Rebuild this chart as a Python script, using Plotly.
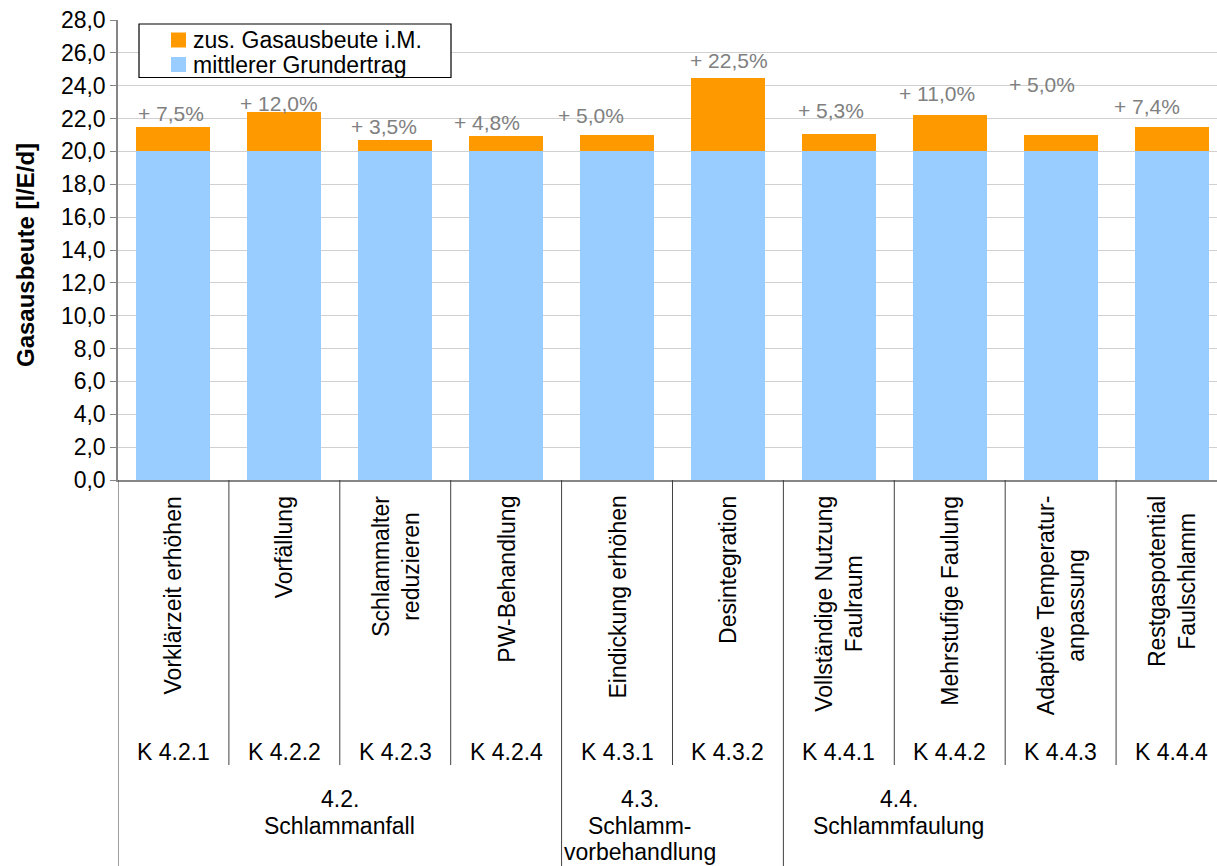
import plotly.graph_objects as go

categories = ["Vorklärzeit erhöhen", "Vorfällung", "Schlammalter<br>reduzieren", "PW-Behandlung",
              "Eindickung erhöhen", "Desintegration", "Vollständige Nutzung<br>Faulraum",
              "Mehrstufige Faulung", "Adaptive Temperatur-<br>anpassung", "Restgaspotential<br>Faulschlamm"]
codes = ["K 4.2.1", "K 4.2.2", "K 4.2.3", "K 4.2.4", "K 4.3.1", "K 4.3.2",
         "K 4.4.1", "K 4.4.2", "K 4.4.3", "K 4.4.4"]
groups = ["4.2.<br>Schlammanfall", "4.3.<br>Schlamm-<br>vorbehandlung", "4.4.<br>Schlammfaulung"]
group_sizes = [4, 2, 4]
base_yield = [20.0, 20.0, 20.0, 20.0, 20.0, 20.0, 20.0, 20.0, 20.0, 20.0]
extra_pct = [7.5, 12.0, 3.5, 4.8, 5.0, 22.5, 5.3, 11.0, 5.0, 7.4]
series_names = ["mittlerer Grundertrag", "zus. Gasausbeute i.M."]
series_colors = ["#99CCFF", "#FF9900"]

# manual label placement offsets (px), as in the original
label_dx = [-2, -5, -11, -19, -26, 1, -8, -13, -19, -25]
label_dy = [0, -5, 0, 0, 6, 4, 10, 8, 37, 7]

extra_yield = [b * p / 100 for b, p in zip(base_yield, extra_pct)]
totals = [b + e for b, e in zip(base_yield, extra_yield)]
pct_text = [("+ %.1f%%" % p).replace(".", ",") for p in extra_pct]

FONT = "Arial, Liberation Sans, sans-serif"
x = list(range(len(categories)))

fig = go.Figure()
fig.add_trace(go.Bar(x=x, y=base_yield, name=series_names[0], showlegend=False,
                     marker=dict(color=series_colors[0], line=dict(width=0))))
fig.add_trace(go.Bar(x=x, y=extra_yield, name=series_names[1], showlegend=False,
                     marker=dict(color=series_colors[1], line=dict(width=0))))

L, W_PLOT, H_PLOT = 118.0, 1099.0, 460.0
def py(px):
    return (480.0 - px) / H_PLOT
def pxp(px):
    return (px - L) / W_PLOT

ann = []
# percentage labels
for i, (t, tot) in enumerate(zip(pct_text, totals)):
    ann.append(dict(x=i, y=tot, xref="x", yref="y", text=t, showarrow=False,
                    xanchor="center", yanchor="bottom", xshift=label_dx[i], yshift=label_dy[i],
                    font=dict(size=21, color="#808080", family=FONT)))
# rotated category labels
for i, c in enumerate(categories):
    ann.append(dict(x=i, y=py(494), xref="x", yref="paper", text=c, textangle=-90,
                    xanchor="center", yanchor="top", showarrow=False, align="center",
                    font=dict(size=23, color="#000000", family=FONT)))
for i, k in enumerate(codes):
    ann.append(dict(x=i, y=py(752), xref="x", yref="paper", text=k,
                    xanchor="center", yanchor="middle", showarrow=False,
                    font=dict(size=23, color="#000000", family=FONT)))
group_centers = [1.5, 4.21, 6.54]
for g, gc in zip(groups, group_centers):
    for j, line in enumerate(g.split("<br>")):
        ann.append(dict(x=gc, y=py(799 + 26.5 * j), xref="x", yref="paper", text=line,
                        xanchor="center", yanchor="middle", showarrow=False,
                        font=dict(size=23, color="#000000", family=FONT)))
# y-axis title
ann.append(dict(x=pxp(25), y=py(255), xref="paper", yref="paper",
                text="<b>Gasausbeute [l/E/d]</b>", textangle=-90, showarrow=False,
                xanchor="center", yanchor="middle",
                font=dict(size=24, color="#000000", family=FONT)))

shapes = []
# legend box
shapes.append(dict(type="rect", xref="paper", yref="paper", x0=pxp(139), x1=pxp(451),
                   y0=py(24), y1=py(77.5), fillcolor="white",
                   line=dict(color="#000000", width=1.2), layer="above"))
legend_rows = [(series_names[1], series_colors[1], 40), (series_names[0], series_colors[0], 64.5)]
for name, col, cy in legend_rows:
    shapes.append(dict(type="rect", xref="paper", yref="paper", x0=pxp(171), x1=pxp(186),
                       y0=py(cy - 7.5), y1=py(cy + 7.5), fillcolor=col,
                       line=dict(width=0), layer="above"))
    ann.append(dict(x=pxp(191), y=py(cy), xref="paper", yref="paper", text=name,
                    xanchor="left", yanchor="middle", showarrow=False,
                    font=dict(size=23, color="#000000", family=FONT)))

bounds = []
s = 0
for n in group_sizes:
    s += n
    bounds.append(s)
for i in range(1, len(categories)):
    is_group = i in bounds
    shapes.append(dict(type="line", xref="x", yref="paper", x0=i - 0.5, x1=i - 0.5,
                       y0=0, y1=py(866) if is_group else py(765),
                       line=dict(color="#404040", width=1)))
shapes.append(dict(type="line", xref="x", yref="paper", x0=-0.5, x1=-0.5,
                   y0=0, y1=py(866), line=dict(color="#404040", width=1)))

fig.update_layout(
    width=1217, height=866,
    margin=dict(l=118, r=0, t=20, b=386),
    barmode="stack", bargap=1/3,
    plot_bgcolor="white", paper_bgcolor="white",
    separators=",.",
    font=dict(family=FONT, size=23, color="#000000"),
    showlegend=False,
    xaxis=dict(range=[-0.5, 9.41], showticklabels=False, showgrid=False,
               showline=True, linecolor="#868686", linewidth=1.5, ticks="",
               zeroline=False, fixedrange=True),
    yaxis=dict(range=[0, 28], dtick=2, tickformat=".1f", showgrid=True,
               gridcolor="#D0D0D0", gridwidth=1, showline=True,
               linecolor="#868686", linewidth=1.5, ticks="outside", ticklen=6,
               tickcolor="#868686", zeroline=False,
               tickfont=dict(size=23, family=FONT, color="#000000")),
    annotations=ann, shapes=shapes,
)

fig.write_html("out.html")
